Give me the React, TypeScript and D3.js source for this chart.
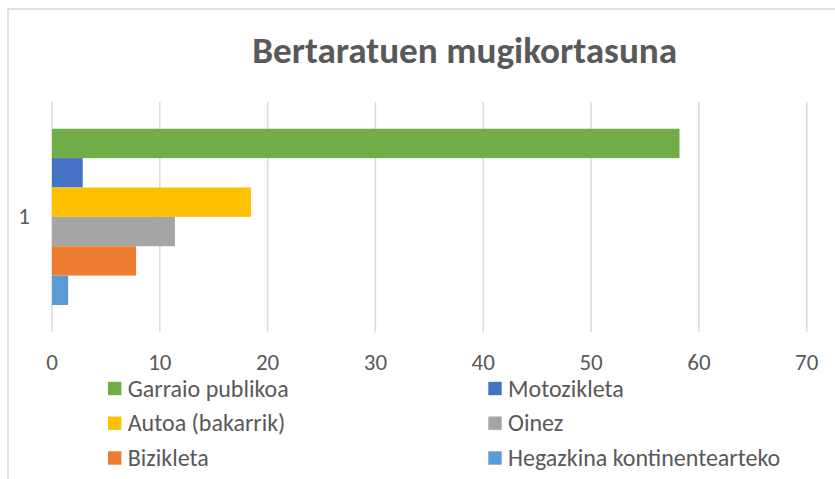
import React from "react";
import * as d3 from "d3";

const title = "Bertaratuen mugikortasuna";
const categories = ["1"];
const seriesNames = [
  "Garraio publikoa",
  "Motozikleta",
  "Autoa (bakarrik)",
  "Oinez",
  "Bizikleta",
  "Hegazkina kontinentearteko",
];
const seriesValues = [58.2, 2.85, 18.45, 11.4, 7.8, 1.5];
const seriesColors = ["#70AD47", "#4472C4", "#FFC000", "#A5A5A5", "#ED7D31", "#5B9BD5"];
const xTicks = [0, 10, 20, 30, 40, 50, 60, 70];

const W = 835;
const H = 479;
const FONT = "Carlito, Calibri, Lato, 'Open Sans', sans-serif";
const TEXT = "#595959";
const GRID = "#d9d9d9";

export default function App() {
  const plotLeft = 52;
  const plotRight = 806.7;
  const plotTop = 102;
  const plotBottom = 331.7;

  const x = d3.scaleLinear().domain([0, 70]).range([plotLeft, plotRight]);
  const y0 = d3.scaleBand<string>().domain(categories).range([plotTop, plotBottom]).padding(0);
  const y1 = d3
    .scaleBand<string>()
    .domain(seriesNames)
    .range([0, y0.bandwidth()])
    .paddingInner(0)
    .paddingOuter(0.91);

  const legendCols = [108, 488.3];
  const legendRows = [388.5, 423.2, 458];

  return (
    <svg
      width={W}
      height={H}
      style={{ position: "absolute", left: 0, top: 0, background: "#fff" }}
      fontFamily={FONT}
    >
      <rect x={0} y={0} width={W} height={H} fill="#fff" />
      <rect x={8} y={9} width={1000} height={700} fill="#fff" stroke={GRID} strokeWidth={1.5} />
      <text
        x={464.7}
        y={63.3}
        textAnchor="middle"
        fontSize={37.2}
        fontWeight="bold"
        fill={TEXT}
      >
        {title}
      </text>
      {xTicks.map((t) => (
        <line
          key={"g" + t}
          x1={x(t)}
          x2={x(t)}
          y1={plotTop}
          y2={plotBottom}
          stroke={GRID}
          strokeWidth={1.5}
        />
      ))}
      {categories.map((c) =>
        seriesNames.map((s, i) => (
          <rect
            key={c + s}
            x={x(0)}
            y={(y0(c) ?? 0) + (y1(s) ?? 0)}
            width={x(seriesValues[i]) - x(0)}
            height={y1.bandwidth()}
            fill={seriesColors[i]}
          />
        ))
      )}
      {xTicks.map((t) => (
        <text key={"t" + t} x={x(t)} y={370} textAnchor="middle" fontSize={23} fill={TEXT}>
          {t}
        </text>
      ))}
      {categories.map((c) => (
        <text
          key={"c" + c}
          x={24}
          y={(y0(c) ?? 0) + y0.bandwidth() / 2 + 7.3}
          textAnchor="middle"
          fontSize={23}
          fill={TEXT}
        >
          {c}
        </text>
      ))}
      {seriesNames.map((s, i) => {
        const col = i % 2;
        const row = Math.floor(i / 2);
        const lx = legendCols[col];
        const ly = legendRows[row];
        return (
          <g key={"l" + s}>
            <rect x={lx} y={ly - 6.7} width={13.4} height={13.4} fill={seriesColors[i]} />
            <text x={lx + 19.7} y={ly + 8} fontSize={24} fill={TEXT}>
              {s}
            </text>
          </g>
        );
      })}
    </svg>
  );
}
